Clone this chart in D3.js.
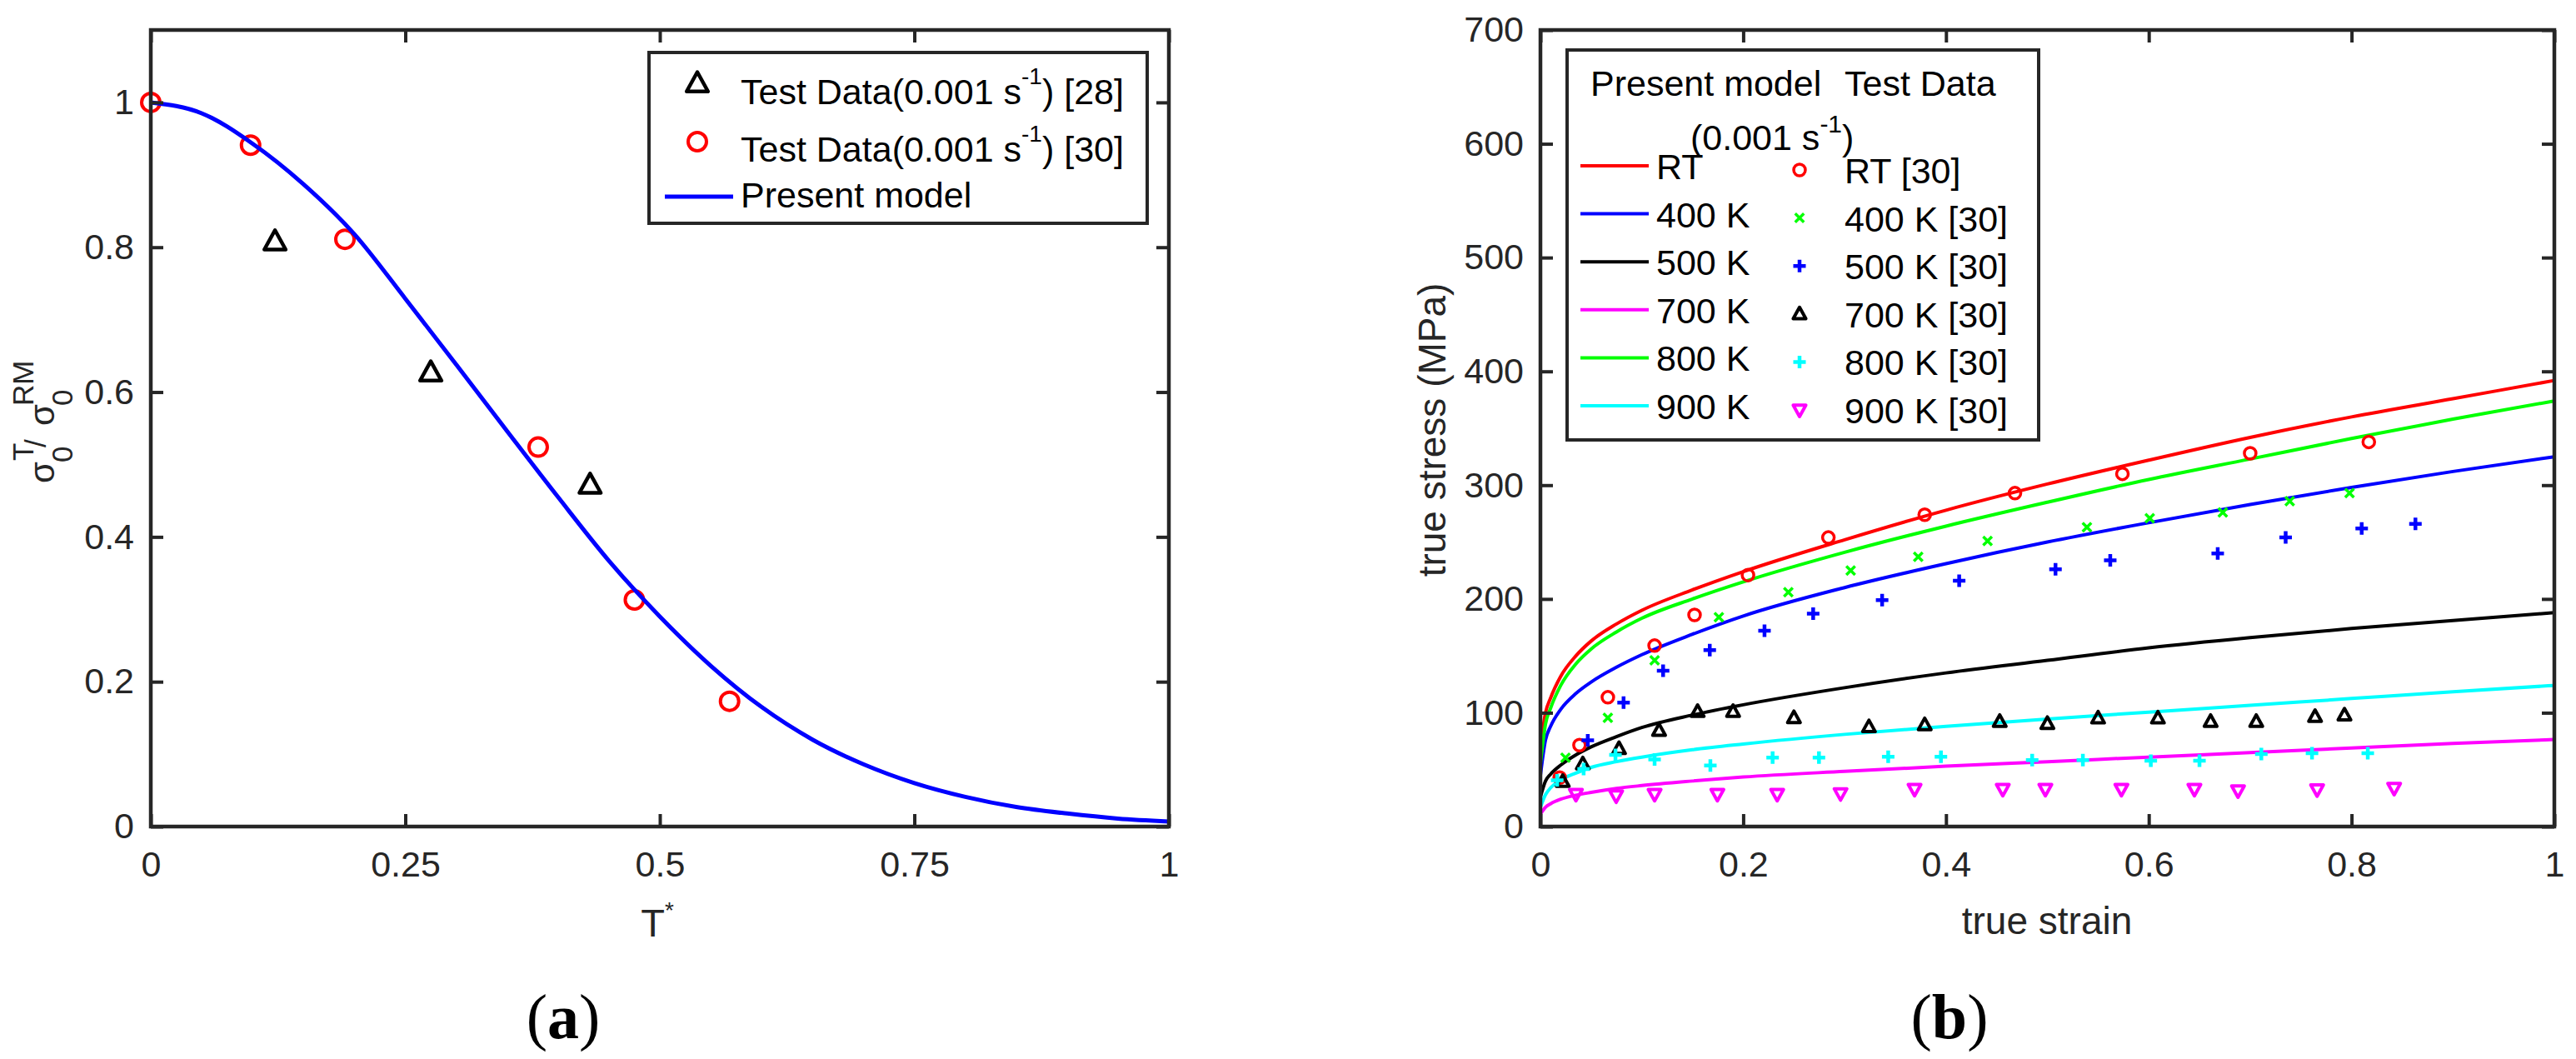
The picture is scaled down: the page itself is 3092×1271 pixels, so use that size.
<!DOCTYPE html>
<html>
<head>
<meta charset="utf-8">
<script src="https://d3js.org/d3.v7.min.js"></script>
<style>
	body { margin: 0; background: #fff; }
	text { font-family: 'Liberation Sans', Arial, Helvetica, sans-serif; }
	.panel-tag { font-family: 'Liberation Serif', 'Times New Roman', serif; }
</style>
</head>
<body>
<svg id="fig" width="3092" height="1271"></svg>
<script>
'use strict';

//---- panel (a): normalised initial yield stress against homologous temperature ----
var tStarModel = [0, 0.05, 0.1, 0.15, 0.2, 0.25, 0.3, 0.35, 0.4, 0.45, 0.5, 0.55, 0.6, 0.65, 0.7, 0.75, 0.8, 0.85, 0.9, 0.95, 1];
var ratioModel = [1.000, 0.985, 0.943, 0.887, 0.818, 0.729, 0.638, 0.546, 0.455, 0.367, 0.290, 0.222, 0.165, 0.120, 0.086, 0.060, 0.041, 0.027, 0.018, 0.011, 0.007];

var tStar28 = [0.122, 0.275, 0.4315];
var ratio28 = [0.808, 0.627, 0.472];

var tStar30 = [0, 0.098, 0.1907, 0.3805, 0.475, 0.5685];
var ratio30 = [1.0, 0.941, 0.811, 0.524, 0.313, 0.173];

var ticksAx = [0, 0.25, 0.5, 0.75, 1];
var ticksAy = [0, 0.2, 0.4, 0.6, 0.8, 1];

//---- panel (b): true stress against true strain ----
var strainModel = [0, 0.005, 0.01, 0.02, 0.035, 0.05, 0.075, 0.1, 0.15, 0.2, 0.3, 0.4, 0.5, 0.6, 0.7, 0.8, 0.9, 1];
var modelRT  = [70, 100, 113, 132, 150, 163, 178, 190, 208, 224, 252, 278, 301, 322, 342, 360, 376, 392];
var model400 = [45, 76, 88, 103, 117, 127, 140, 151, 169, 185, 210, 231, 250, 267, 283, 298, 312, 325];
var model500 = [26, 40, 46, 54, 63, 70, 79, 87, 98, 107, 122, 135, 146, 157, 166, 174, 181, 188];
var model700 = [11, 17, 20, 24, 27.5, 30, 33.5, 36, 40, 43.5, 48.5, 53, 57, 61, 65, 69, 73, 76.5];
var model800 = [55, 90, 104, 124, 143, 156, 171, 183, 200, 215, 241, 264, 285, 305, 323, 341, 358, 374];
var model900 = [17, 28, 34, 41, 47, 52, 57, 61, 67.5, 72.5, 81, 88, 94.5, 100.5, 106.5, 112.5, 118.5, 124];

var strainRT = [0.019, 0.0385, 0.0665, 0.1126, 0.152, 0.2047, 0.284, 0.379, 0.468, 0.574, 0.70, 0.817];
var stressRT = [43, 71.6, 113.6, 159, 186, 221, 254, 274, 293, 310, 328, 338];

var strain400 = [0.0247, 0.0665, 0.1126, 0.176, 0.2445, 0.306, 0.3726, 0.441, 0.539, 0.601, 0.673, 0.739, 0.798];
var stress400 = [60.5, 95.6, 146, 184, 206, 225, 237, 251, 263, 271, 276, 286, 293];

var strain500 = [0.0467, 0.082, 0.121, 0.167, 0.221, 0.269, 0.337, 0.413, 0.508, 0.562, 0.668, 0.735, 0.81, 0.863];
var stress500 = [75.8, 109, 137, 155, 172, 187, 199, 216, 226, 234, 240, 254, 262, 266];

var strain700 = [0.022, 0.0418, 0.0775, 0.117, 0.155, 0.19, 0.25, 0.324, 0.379, 0.453, 0.5, 0.55, 0.609, 0.661, 0.706, 0.764, 0.793];
var stress700 = [39.5, 55, 68.4, 84.4, 101, 101, 95.6, 87.6, 89.4, 92.3, 90.5, 95.3, 95.3, 92.3, 92.3, 96.6, 97.9];

var strain800 = [0.0165, 0.0426, 0.074, 0.1126, 0.1676, 0.229, 0.2747, 0.343, 0.395, 0.485, 0.535, 0.602, 0.65, 0.711, 0.761, 0.816];
var stress800 = [40.7, 50.6, 63, 59, 53.6, 60.5, 60.5, 61.4, 61.4, 58.4, 58.4, 57.8, 57.8, 63.7, 64.4, 64.4];

var strain900 = [0.035, 0.0747, 0.1126, 0.1745, 0.2335, 0.296, 0.369, 0.456, 0.498, 0.573, 0.645, 0.688, 0.766, 0.842];
var stress900 = [28.4, 27, 28.4, 28.4, 28.4, 29, 32.8, 32.8, 32.8, 32.8, 32.8, 31.5, 32.4, 33.7];

var ticksBx = [0, 0.2, 0.4, 0.6, 0.8, 1];
var ticksBy = [0, 100, 200, 300, 400, 500, 600, 700];

var modelLabels = ['RT', '400 K', '500 K', '700 K', '800 K', '900 K'];
var testLabels = ['RT [30]', '400 K [30]', '500 K [30]', '700 K [30]', '800 K [30]', '900 K [30]'];

//styling, kept apart from the values
var frameColor = '#262626';
var modelColors = ['#ff0000', '#0000ff', '#000000', '#ff00ff', '#00ff00', '#00ffff'];
var testStyles = [
	{ kind: 'o', color: '#ff0000', size: 7, width: 3.5 },
	{ kind: 'x', color: '#00ff00', size: 7, width: 3.5 },
	{ kind: '+', color: '#0000ff', size: 7.5, width: 4.5 },
	{ kind: '^', color: '#000000', size: 8, width: 4 },
	{ kind: '+', color: '#00ffff', size: 7.5, width: 4.5 },
	{ kind: 'v', color: '#ff00ff', size: 8, width: 4 }
];

var svg = d3.select('#fig');
svg.append('rect').attr('width', 3092).attr('height', 1271).attr('fill', '#fff');

// zip two arrays into [x, y] pairs
function pairs(xs, ys) {
	return xs.map(function (d, i) { return [d, ys[i]]; });
}

// matlab style marker outlines, s is the half size in pixels
function markerPath(kind, s) {
	var p = d3.path();
	if (kind === 'o') {
		p.moveTo(s, 0);
		p.arc(0, 0, s, 0, 2 * Math.PI);
	} else if (kind === '^') {
		p.moveTo(0, -s);
		p.lineTo(s * 0.95, s * 0.72);
		p.lineTo(-s * 0.95, s * 0.72);
		p.closePath();
	} else if (kind === 'v') {
		p.moveTo(0, s);
		p.lineTo(s * 0.95, -s * 0.72);
		p.lineTo(-s * 0.95, -s * 0.72);
		p.closePath();
	} else if (kind === '+') {
		p.moveTo(-s, 0); p.lineTo(s, 0);
		p.moveTo(0, -s); p.lineTo(0, s);
	} else {
		var k = s * 0.75;
		p.moveTo(-k, -k); p.lineTo(k, k);
		p.moveTo(k, -k); p.lineTo(-k, k);
	}
	return p.toString();
}

function styleAxis(sel) {
	sel.attr('font-family', null).attr('font-size', 43);
	sel.select('.domain').remove();
	sel.selectAll('.tick line').attr('stroke', frameColor).attr('stroke-width', 4);
	sel.selectAll('.tick text').attr('fill', frameColor);
}

// box with inward ticks on all four sides, labels only on bottom and left
function drawFrame(x, y, xTicks, yTicks) {
	var x0 = x.range()[0], x1 = x.range()[1], y0 = y.range()[0], y1 = y.range()[1];
	var g = svg.append('g');
	g.append('g').attr('transform', 'translate(0,' + y0 + ')')
		.call(d3.axisBottom(x).tickValues(xTicks).tickSizeInner(-15).tickSizeOuter(0).tickPadding(29).tickFormat(String))
		.call(styleAxis);
	g.append('g').attr('transform', 'translate(0,' + y1 + ')')
		.call(d3.axisTop(x).tickValues(xTicks).tickSizeInner(-15).tickSizeOuter(0).tickFormat(''))
		.call(styleAxis);
	g.append('g').attr('transform', 'translate(' + x0 + ',0)')
		.call(d3.axisLeft(y).tickValues(yTicks).tickSizeInner(-15).tickSizeOuter(0).tickPadding(20).tickFormat(String))
		.call(styleAxis);
	g.append('g').attr('transform', 'translate(' + x1 + ',0)')
		.call(d3.axisRight(y).tickValues(yTicks).tickSizeInner(-15).tickSizeOuter(0).tickFormat(''))
		.call(styleAxis);
	g.append('rect')
		.attr('x', x0).attr('y', y1)
		.attr('width', x1 - x0).attr('height', y0 - y1)
		.attr('fill', 'none').attr('stroke', frameColor).attr('stroke-width', 4.5);
}

function drawMarkers(x, y, pts, kind, color, size, width) {
	svg.append('g').selectAll('path').data(pts).join('path')
		.attr('transform', function (d) { return 'translate(' + x(d[0]) + ',' + y(d[1]) + ')'; })
		.attr('d', markerPath(kind, size))
		.attr('fill', 'none').attr('stroke', color).attr('stroke-width', width)
		.attr('stroke-linejoin', 'round');
}

function drawCurve(x, y, pts, color, width) {
	var line = d3.line()
		.curve(d3.curveMonotoneX)
		.x(function (d) { return x(d[0]); })
		.y(function (d) { return y(d[1]); });
	svg.append('path').datum(pts)
		.attr('d', line)
		.attr('fill', 'none').attr('stroke', color).attr('stroke-width', width)
		.attr('stroke-linejoin', 'round');
}

//---------------- panel (a) ----------------
var xA = d3.scaleLinear().domain([0, 1]).range([181, 1403]);
var yA = d3.scaleLinear().domain([0, 1.1]).range([992, 36]);

drawMarkers(xA, yA, pairs(tStar28, ratio28), '^', '#000', 13.5, 4.5);
drawMarkers(xA, yA, pairs(tStar30, ratio30), 'o', '#ff0000', 11, 4);
drawCurve(xA, yA, pairs(tStarModel, ratioModel), '#0000ff', 5);
drawFrame(xA, yA, ticksAx, ticksAy);

// x label T*
var tLab = svg.append('text').attr('x', 789).attr('y', 1124)
	.attr('text-anchor', 'middle').attr('font-size', 47).attr('fill', frameColor);
tLab.append('tspan').text('T');
tLab.append('tspan').attr('font-size', 28).attr('dy', -22).text('*');

// y label sigma_0^T / sigma_0^RM, stacked scripts placed by hand along the rotated baseline
var yLab = svg.append('g').attr('transform', 'translate(65,517) rotate(-90)')
	.attr('fill', frameColor);
[
	{ t: '\u03c3', u: -63, v: 0, f: 42 },
	{ t: '0', u: -38, v: 22, f: 35 },
	{ t: 'T', u: -36, v: -25, f: 35 },
	{ t: '/', u: -20, v: -10, f: 35 },
	{ t: '\u03c3', u: 6, v: 0, f: 42 },
	{ t: '0', u: 30, v: 22, f: 35 },
	{ t: 'RM', u: 30, v: -25, f: 35 }
].forEach(function (p) {
	yLab.append('text').attr('x', p.u).attr('y', p.v).attr('font-size', p.f).text(p.t);
});

// legend (a)
var legA = svg.append('g');
legA.append('rect').attr('x', 779).attr('y', 63).attr('width', 598).attr('height', 205)
	.attr('fill', '#fff').attr('stroke', frameColor).attr('stroke-width', 4);
legA.append('path').attr('transform', 'translate(837,100)').attr('d', markerPath('^', 13.5))
	.attr('fill', 'none').attr('stroke', '#000').attr('stroke-width', 4.5).attr('stroke-linejoin', 'round');
legA.append('path').attr('transform', 'translate(837,170)').attr('d', markerPath('o', 11))
	.attr('fill', 'none').attr('stroke', '#ff0000').attr('stroke-width', 4);
legA.append('line').attr('x1', 798).attr('x2', 880).attr('y1', 236).attr('y2', 236)
	.attr('stroke', '#0000ff').attr('stroke-width', 5);
['[28]', '[30]'].forEach(function (ref, i) {
	var t = legA.append('text').attr('x', 889).attr('y', 125 + i * 69).attr('font-size', 43).attr('fill', '#000');
	t.append('tspan').text('Test Data(0.001 s');
	t.append('tspan').attr('font-size', 28).attr('dy', -24).text('-1');
	t.append('tspan').attr('dy', 24).text(') ' + ref);
});
legA.append('text').attr('x', 889).attr('y', 249).attr('font-size', 43).attr('fill', '#000').text('Present model');

//---------------- panel (b) ----------------
var xB = d3.scaleLinear().domain([0, 1]).range([1849, 3066]);
var yB = d3.scaleLinear().domain([0, 700]).range([992, 36]);

[modelRT, model400, model500, model700, model800, model900].forEach(function (vals, i) {
	drawCurve(xB, yB, pairs(strainModel, vals), modelColors[i], 4);
});
[
	pairs(strainRT, stressRT), pairs(strain400, stress400), pairs(strain500, stress500),
	pairs(strain700, stress700), pairs(strain800, stress800), pairs(strain900, stress900)
].forEach(function (pts, i) {
	var st = testStyles[i];
	drawMarkers(xB, yB, pts, st.kind, st.color, st.size, st.width);
});
drawFrame(xB, yB, ticksBx, ticksBy);

svg.append('text').attr('x', 2457).attr('y', 1121).attr('text-anchor', 'middle')
	.attr('font-size', 46).attr('fill', frameColor).text('true strain');
svg.append('text').attr('transform', 'translate(1735,516) rotate(-90)').attr('text-anchor', 'middle')
	.attr('font-size', 46).attr('fill', frameColor).text('true stress (MPa)');

// legend (b): two columns, model lines and test markers
var legB = svg.append('g');
legB.append('rect').attr('x', 1881).attr('y', 60).attr('width', 566).attr('height', 468)
	.attr('fill', '#fff').attr('stroke', frameColor).attr('stroke-width', 4);
legB.append('text').attr('x', 1909).attr('y', 115).attr('font-size', 43).attr('fill', '#000').text('Present model');
legB.append('text').attr('x', 2214).attr('y', 115).attr('font-size', 43).attr('fill', '#000').text('Test Data');
var rate = legB.append('text').attr('x', 2029).attr('y', 180).attr('font-size', 43).attr('fill', '#000');
rate.append('tspan').text('(0.001 s');
rate.append('tspan').attr('font-size', 30).attr('dy', -21).text('-1');
rate.append('tspan').attr('dy', 21).text(')');

modelLabels.forEach(function (lab, i) {
	var yy = 199 + i * 57.6;
	legB.append('line').attr('x1', 1897).attr('x2', 1979).attr('y1', yy).attr('y2', yy)
		.attr('stroke', modelColors[i]).attr('stroke-width', 4);
	legB.append('text').attr('x', 1988).attr('y', yy + 16).attr('font-size', 43).attr('fill', '#000').text(lab);
	var st = testStyles[i];
	legB.append('path').attr('transform', 'translate(2160,' + (yy + 5) + ')')
		.attr('d', markerPath(st.kind, st.size))
		.attr('fill', 'none').attr('stroke', st.color).attr('stroke-width', st.width)
		.attr('stroke-linejoin', 'round');
	legB.append('text').attr('x', 2214).attr('y', yy + 21).attr('font-size', 43).attr('fill', '#000').text(testLabels[i]);
});

//---------------- panel tags ----------------
[['a', 676], ['b', 2340]].forEach(function (tag) {
	var t = svg.append('text').attr('class', 'panel-tag').attr('x', tag[1]).attr('y', 1246)
		.attr('text-anchor', 'middle').attr('font-size', 76).attr('fill', '#000');
	t.append('tspan').text('(');
	t.append('tspan').attr('font-weight', 'bold').text(tag[0]);
	t.append('tspan').text(')');
});
</script>
</body>
</html>
